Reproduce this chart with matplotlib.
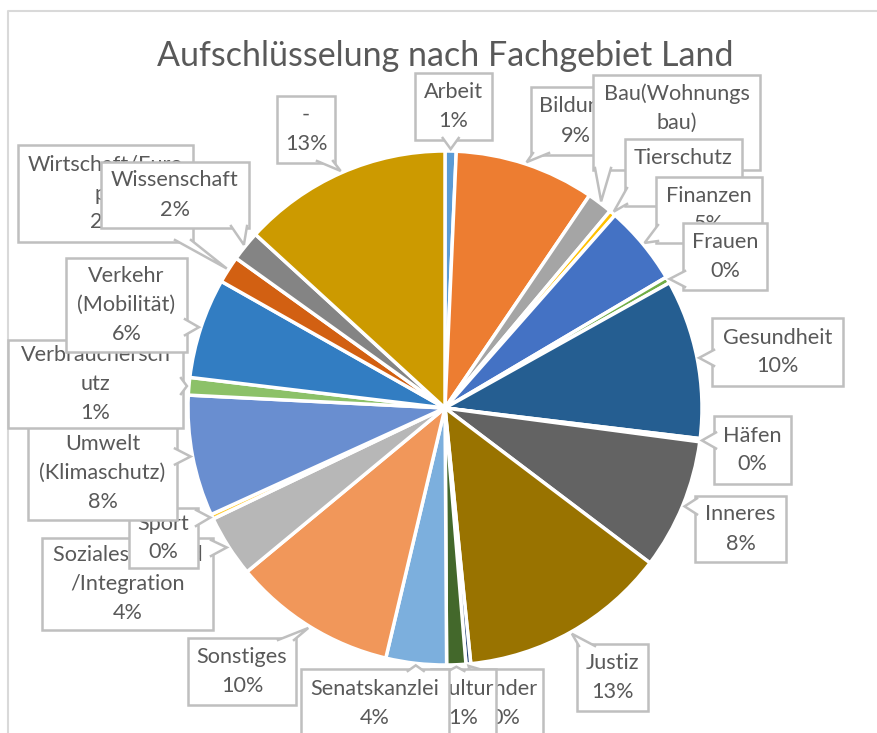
import matplotlib.pyplot as plt
import numpy as np
from matplotlib.patches import Rectangle, Polygon

plt.rcParams['font.family'] = ['Lato', 'DejaVu Sans']

# Anteile je Fachgebiet (Prozent)
names = ['Arbeit', 'Bildung', 'Bau(Wohnungs\nbau)', 'Tierschutz', 'Finanzen', 'Frauen',
         'Gesundheit', 'Häfen', 'Inneres', 'Justiz', 'Kinder', 'Kultur', 'Senatskanzlei',
         'Sonstiges', 'Soziales Jugend\n/Integration', 'Sport', 'Umwelt\n(Klimaschutz)',
         'Verbrauchersch\nutz', 'Verkehr\n(Mobilität)', 'Wirtschaft/Euro\npa', 'Wissenschaft', '-']
values = [0.7, 8.8, 1.6, 0.4, 5.0, 0.4,
          10.0, 0.2, 8.2, 13.1, 0.3, 1.2, 3.8,
          10.3, 3.9, 0.3, 7.6,
          1.1, 6.3, 1.7, 1.9, 13.2]
colors = ['#5B9BD5', '#ED7D31', '#A5A5A5', '#FFC000', '#4472C4', '#70AD47',
          '#255E91', '#9E480E', '#636363', '#997300', '#264478', '#43682B', '#7CAFDD',
          '#F1975A', '#B7B7B7', '#FFCD33', '#698ED0', '#8CC168', '#327DC2', '#D26012',
          '#848484', '#CC9A00']

# label boxes (pixel layout: x0, y0, x1, y1)
boxes = [(415, 73, 492, 140), (531, 87, 620, 155), (593, 75, 760, 170), (625, 139, 742, 206),
         (656, 177, 762, 243), (683, 223, 767, 290), (712, 318, 843, 386), (714, 416, 791, 484),
         (695, 496, 786, 562), (577, 644, 648, 711), (468, 669, 543, 738), (431, 669, 496, 738),
         (301, 669, 449, 738), (188, 638, 296, 705), (42, 538, 213, 630), (129, 508, 198, 568),
         (28, 425, 177, 520), (8, 340, 183, 428), (66, 258, 187, 352), (18, 145, 193, 242),
         (101, 162, 249, 228), (277, 96, 335, 163)]

cx, cy, R = 445, 408, 257
txt_col = '#595959'
edge_col = '#BFBFBF'

fig = plt.figure(figsize=(8.78, 7.33), dpi=100)
ax = fig.add_axes([0, 0, 1, 1])

wedges, _ = ax.pie(values, colors=colors, startangle=-90, counterclock=True,
                   center=(cx, cy), radius=R, frame=True,
                   wedgeprops=dict(edgecolor='white', linewidth=2.5))
ax.set_xlim(0, 878)
ax.set_ylim(733, 0)
ax.set_aspect('equal')
ax.axis('off')

total = sum(values)
for i, (w, name, b) in enumerate(zip(wedges, names, boxes)):
    z = 10 + i
    ang = np.deg2rad((w.theta1 + w.theta2) / 2)
    tip = np.array([cx + (R + 2) * np.cos(ang), cy + (R + 2) * np.sin(ang)])
    x0, y0, x1, y1 = b
    bc = np.array([(x0 + x1) / 2, (y0 + y1) / 2])
    # where the pointer leaves the box
    d = tip - bc
    hw, hh = (x1 - x0) / 2, (y1 - y0) / 2
    inside = abs(d[0]) <= hw and abs(d[1]) <= hh
    if not inside:
        if abs(d[0]) * hh > abs(d[1]) * hw:
            sx = x1 if d[0] > 0 else x0
            py = np.clip(tip[1], y0 + 10, y1 - 10)
            base = [(sx - np.sign(d[0]) * 2, py - 8), (sx - np.sign(d[0]) * 2, py + 8)]
        else:
            sy = y1 if d[1] > 0 else y0
            px = np.clip(tip[0], x0 + 10, x1 - 10)
            base = [(px - 8, sy - np.sign(d[1]) * 2), (px + 8, sy - np.sign(d[1]) * 2)]
    ax.add_patch(Rectangle((x0, y0), x1 - x0, y1 - y0, facecolor='white',
                           edgecolor=edge_col, linewidth=1.8, zorder=z))
    if not inside:
        ax.add_patch(Polygon([base[0], tip, base[1]], closed=True, facecolor='white',
                             edgecolor='none', zorder=z + 0.1))
        ax.plot([base[0][0], tip[0], base[1][0]], [base[0][1], tip[1], base[1][1]],
                color=edge_col, linewidth=1.8, zorder=z + 0.2, solid_joinstyle='miter')
    lines = name.split('\n') + [f'{round(values[i] / total * 100):.0f}%']
    n = len(lines)
    for k, ln in enumerate(lines):
        ty = bc[1] + (k - (n - 1) / 2) * 29
        ax.text(bc[0], ty, ln, ha='center', va='center', fontsize=15.6,
                color=txt_col, zorder=z + 0.3)

# chart frame
ax.plot([8, 8, 878], [733, 11, 11], color='#D9D9D9', linewidth=1.5, zorder=1)

ax.text(445, 56, 'Aufschlüsselung nach Fachgebiet Land', ha='center', va='center',
        fontsize=24.5, color=txt_col)

fig.savefig('out.png', dpi=100)
